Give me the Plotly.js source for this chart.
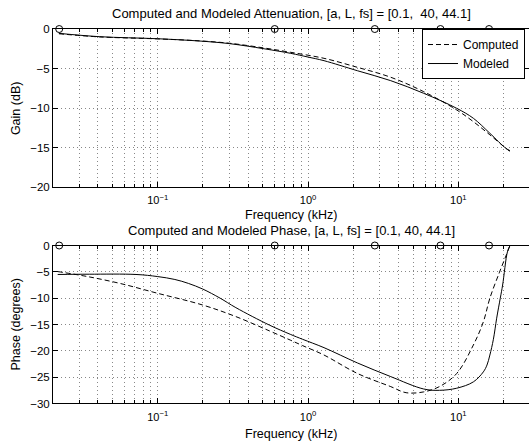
<!DOCTYPE html>
<html>
<head>
<meta charset="utf-8">
<script src="https://cdn.plot.ly/plotly-3.0.1.min.js"></script>
<style>html,body{margin:0;padding:0;background:#fff;}#chart{width:529px;height:443px;}</style>
</head>
<body>
<div id="chart"></div>
<script>
// ---- Data (frequencies in kHz) ----
var gainModF = [0.022, 0.041, 0.1, 0.19, 0.3, 0.51, 0.767, 1.0, 1.277, 2.13, 3.55, 5.88, 9.75, 12.58, 16.2, 20.7, 22.05];
var gainMod  = [-0.55, -0.97, -1.23, -1.52, -1.85, -2.5, -3.08, -3.55, -4.01, -5.28, -6.54, -8.14, -10.04, -11.3, -13.2, -15.1, -15.4];

var gainCompF = [0.022, 0.041, 0.1, 0.19, 0.3, 0.51, 0.767, 1.277, 2.13, 3.55, 5.88, 9.75, 12.58, 16.2, 20.7, 22.05];
var gainComp  = [-0.6, -1.0, -1.25, -1.5, -1.8, -2.4, -2.95, -3.71, -4.85, -6.11, -7.93, -10.25, -11.73, -13.4, -15.1, -15.5];

var phaseModF = [0.0216, 0.035, 0.0717, 0.1, 0.13, 0.16, 0.199, 0.26, 0.331, 0.552, 0.767, 0.918, 1.277, 2.13, 3.55, 5.88, 7.48, 9.75, 12.58, 14.66, 15.5, 16.2, 17.1, 17.98, 19.0, 19.7, 21.2, 22.05];
var phaseMod  = [-5.5, -5.45, -5.5, -5.9, -6.45, -7.2, -8.26, -10.0, -11.8, -15.1, -16.9, -17.8, -19.4, -22.3, -24.9, -27.25, -27.5, -27.1, -25.9, -24.0, -22.7, -20.8, -17.8, -13.8, -10.0, -7.5, -1.2, 0];

var phaseCompF = [0.0216, 0.0334, 0.0557, 0.1, 0.199, 0.331, 0.552, 0.767, 0.918, 1.277, 2.13, 3.55, 4.49, 5.88, 7.48, 9.75, 12.58, 14.66, 16.2, 18.7, 20.7, 22.05];
var phaseComp  = [-4.95, -5.85, -7.18, -9.08, -11.3, -13.5, -16.2, -18.0, -19.0, -20.8, -24.3, -26.8, -27.95, -27.8, -26.8, -24.3, -18.9, -14.5, -10.0, -5.2, -2.0, 0];

var markerF = [0.0221, 0.6, 2.78, 7.6, 16.0];
var markerY = [0, 0, 0, 0, 0];

var majorTickVals = [0.1, 1, 10];
var majorTickText = ['10<sup>\u22121</sup>', '10<sup>0</sup>', '10<sup>1</sup>'];
var minorTickVals = [0.03,0.04,0.05,0.06,0.07,0.08,0.09,0.2,0.3,0.4,0.5,0.6,0.7,0.8,0.9,2,3,4,5,6,7,8,9,20];

var topTitle = 'Computed and Modeled Attenuation, [a, L, fs] = [0.1,\u00a0 40, 44.1]';
var botTitle = 'Computed and Modeled Phase, [a, L, fs] = [0.1, 40, 44.1]';

// ---- Traces ----
var dashStyle = '5px,3px';
var smooth = 1.0;
var traces = [
  {x: gainCompF, y: gainComp, xaxis: 'x', yaxis: 'y', mode: 'lines', name: 'Computed', legendgroup: 'c',
   line: {color: 'black', width: 1, dash: dashStyle, shape: 'spline', smoothing: smooth}},
  {x: gainModF, y: gainMod, xaxis: 'x', yaxis: 'y', mode: 'lines', name: 'Modeled', legendgroup: 'm',
   line: {color: 'black', width: 1, shape: 'spline', smoothing: smooth}},
  {x: markerF, y: markerY, xaxis: 'x', yaxis: 'y', mode: 'markers', showlegend: false, cliponaxis: false,
   marker: {symbol: 'circle-open', size: 7, color: 'black', line: {width: 1, color: 'black'}}},
  {x: phaseCompF, y: phaseComp, xaxis: 'x2', yaxis: 'y2', mode: 'lines', name: 'Computed', legendgroup: 'c', showlegend: false,
   line: {color: 'black', width: 1, dash: dashStyle, shape: 'spline', smoothing: smooth}},
  {x: phaseModF, y: phaseMod, xaxis: 'x2', yaxis: 'y2', mode: 'lines', name: 'Modeled', legendgroup: 'm', showlegend: false,
   line: {color: 'black', width: 1, shape: 'spline', smoothing: smooth}},
  {x: markerF, y: markerY, xaxis: 'x2', yaxis: 'y2', mode: 'markers', showlegend: false, cliponaxis: false,
   marker: {symbol: 'circle-open', size: 7, color: 'black', line: {width: 1, color: 'black'}}}
];

var xRange = [Math.log10(0.0201), Math.log10(29.5)];
var gridCol = '#888';
var gridDash = '1px,3px';

function xAxis(anchor) {
  return {
    type: 'log', range: xRange, anchor: anchor,
    tickmode: 'array', tickvals: majorTickVals, ticktext: majorTickText,
    ticks: 'inside', ticklen: 5, tickcolor: 'black', tickwidth: 1,
    showline: true, linecolor: 'black', linewidth: 1, mirror: 'ticks',
    showgrid: true, gridcolor: gridCol, griddash: gridDash, gridwidth: 1,
    minor: {tickmode: 'array', tickvals: minorTickVals, ticks: 'inside', ticklen: 3, tickcolor: 'black',
            showgrid: true, gridcolor: gridCol, griddash: gridDash, gridwidth: 1},
    tickfont: {size: 11}, ticklabelstandoff: 3, zeroline: false
  };
}
function yAxis(anchor, domain, range) {
  return {
    domain: domain, range: range, anchor: anchor, dtick: 5, tick0: 0,
    ticks: 'inside', ticklen: 5, tickcolor: 'black',
    showline: true, linecolor: 'black', linewidth: 1, mirror: 'ticks',
    showgrid: true, gridcolor: gridCol, griddash: gridDash, gridwidth: 1,
    zeroline: false, tickfont: {size: 11.5}
  };
}

var titleSize = 13, labelSize = 12.5;
var layout = {
  width: 529, height: 443,
  margin: {l: 53, r: 0, t: 0, b: 0},
  paper_bgcolor: 'white', plot_bgcolor: 'white',
  font: {family: 'Liberation Sans, Arial, sans-serif', size: 11, color: 'black'},
  xaxis: xAxis('y'),
  xaxis2: xAxis('y2'),
  yaxis: yAxis('x', [0.5779, 0.9345], [-20, 0]),
  yaxis2: yAxis('x2', [0.0892, 0.4458], [-30, 0]),
  showlegend: true,
  legend: {x: 0.9916, xanchor: 'right', y: 0.9345, yanchor: 'top', bgcolor: 'white',
           bordercolor: 'black', borderwidth: 1, font: {size: 12}, tracegroupgap: 0,
           itemwidth: 30},
  annotations: [
    {text: topTitle, xref: 'paper', yref: 'paper', x: 0.5, y: 0.9684, xanchor: 'center', yanchor: 'middle', showarrow: false, font: {size: titleSize}},
    {text: botTitle, xref: 'paper', yref: 'paper', x: 0.5, y: 0.4792, xanchor: 'center', yanchor: 'middle', showarrow: false, font: {size: titleSize}},
    {text: 'Frequency (kHz)', xref: 'paper', yref: 'paper', x: 0.5, y: 0.5147, xanchor: 'center', yanchor: 'middle', showarrow: false, font: {size: labelSize}},
    {text: 'Frequency (kHz)', xref: 'paper', yref: 'paper', x: 0.5, y: 0.0203, xanchor: 'center', yanchor: 'middle', showarrow: false, font: {size: labelSize}},
    {text: 'Gain (dB)', xref: 'paper', yref: 'paper', x: -0.0777, y: 0.756, xanchor: 'center', yanchor: 'middle', textangle: -90, showarrow: false, font: {size: labelSize}},
    {text: 'Phase (degrees)', xref: 'paper', yref: 'paper', x: -0.0777, y: 0.2675, xanchor: 'center', yanchor: 'middle', textangle: -90, showarrow: false, font: {size: labelSize}}
  ]
};

Plotly.newPlot('chart', traces, layout, {displayModeBar: false, staticPlot: true});
</script>
</body>
</html>
